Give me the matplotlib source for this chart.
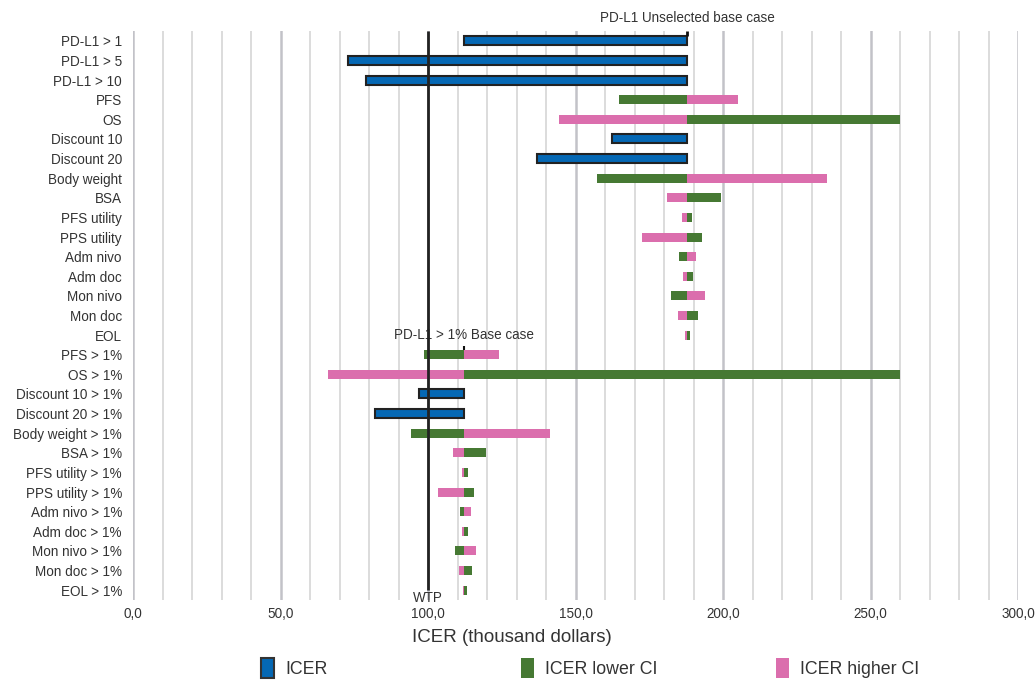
import numpy as np
import matplotlib.pyplot as plt
from matplotlib.patches import Patch
from matplotlib.ticker import MultipleLocator, FuncFormatter

plt.rcParams['font.family'] = ['Liberation Sans', 'DejaVu Sans']

labels = [
    'PD-L1 > 1', 'PD-L1 > 5', 'PD-L1 > 10', 'PFS', 'OS', 'Discount 10',
    'Discount 20', 'Body weight', 'BSA', 'PFS utility', 'PPS utility',
    'Adm nivo', 'Adm doc', 'Mon nivo', 'Mon doc', 'EOL',
    'PFS > 1%', 'OS > 1%', 'Discount 10 > 1%', 'Discount 20 > 1%',
    'Body weight > 1%', 'BSA > 1%', 'PFS utility > 1%', 'PPS utility > 1%',
    'Adm nivo > 1%', 'Adm doc > 1%', 'Mon nivo > 1%', 'Mon doc > 1%',
    'EOL > 1%',
]

base_unselected = 187.9
base_pdl1 = 112.3
wtp = 100.0

# base value each row is drawn from
base = [base_unselected] * 16 + [base_pdl1] * 13

# scenario rows: single ICER value (NaN = not a scenario row)
icer = [112.3, 72.9, 79.1, np.nan, np.nan, 162.4, 136.9, np.nan, np.nan,
        np.nan, np.nan, np.nan, np.nan, np.nan, np.nan, np.nan,
        np.nan, np.nan, 96.9, 82.0, np.nan, np.nan, np.nan, np.nan,
        np.nan, np.nan, np.nan, np.nan, np.nan]

# ICER at lower / higher CI of the parameter
icer_low = [np.nan, np.nan, np.nan, 164.9, 260.0, np.nan, np.nan, 157.4,
            199.4, 189.4, 192.8, 185.0, 189.7, 182.3, 191.4, 188.8,
            98.5, 260.0, np.nan, np.nan, 94.1, 119.5, 113.4, 115.5,
            110.7, 113.4, 109.0, 114.8, 113.1]
icer_high = [np.nan, np.nan, np.nan, 205.0, 144.5, np.nan, np.nan, 235.4,
             181.0, 186.0, 172.4, 191.0, 186.3, 193.8, 184.6, 187.2,
             124.2, 66.2, np.nan, np.nan, 141.2, 108.4, 111.4, 103.3,
             114.5, 111.4, 116.2, 110.4, 111.8]

blue = '#0568b4'
green = '#467933'
pink = '#db6ead'
dark = '#333333'
fs = 9.75

fig = plt.figure(figsize=(10.35, 6.8), dpi=100)
ax = fig.add_axes([133 / 1035, 80 / 680, 885 / 1035, 569 / 680])

y = np.arange(len(labels))
h = 0.46
b = np.array(base)
ic = np.array(icer)
lo = np.array(icer_low)
hi = np.array(icer_high)

m = ~np.isnan(ic)
ax.barh(y[m], ic[m] - b[m], left=b[m], height=h, color=blue,
        edgecolor='#222222', linewidth=1.5, zorder=3)
m = ~np.isnan(lo)
ax.barh(y[m], lo[m] - b[m], left=b[m], height=h, color=green, zorder=3)
ax.barh(y[m], hi[m] - b[m], left=b[m], height=h, color=pink, zorder=3)

# willingness to pay
ax.vlines(wtp, -0.5, len(labels) - 1, color='#222222', linewidth=2, zorder=4)
ax.text(wtp, len(labels) - 0.6, 'WTP', ha='center', va='center',
        fontsize=fs, color=dark)

# base case markers
ax.vlines(base_unselected, -0.5, -h / 2, color='#111111', linewidth=2, zorder=4)
ax.text(base_unselected, -1.15, 'PD-L1 Unselected base case', ha='center',
        va='center', fontsize=fs, color=dark)
ax.vlines(base_pdl1, 15.55, 16 - h / 2, color='#111111', linewidth=1.5, zorder=4)
ax.text(base_pdl1, 15.0, 'PD-L1 > 1% Base case', ha='center', va='center',
        fontsize=fs, color=dark)

ax.set_xlim(0, 300)
ax.set_ylim(len(labels) - 0.5, -0.5)
ax.set_yticks(y)
ax.set_yticklabels(labels, fontsize=fs, color=dark)
ax.xaxis.set_major_locator(MultipleLocator(50))
ax.xaxis.set_minor_locator(MultipleLocator(10))
ax.xaxis.set_major_formatter(FuncFormatter(lambda v, p: f'{v:.1f}'.replace('.', ',')))
ax.tick_params(axis='x', which='both', length=0, labelsize=fs, colors=dark, pad=5)
ax.tick_params(axis='y', length=0, pad=8)
ax.grid(axis='x', which='minor', color='#d6d6d6', linewidth=1.2, zorder=0)
ax.grid(axis='x', which='major', color='#c2c2c8', linewidth=1.8, zorder=0)
ax.set_axisbelow(True)
for s in ax.spines.values():
    s.set_visible(False)

ax.set_xlabel('ICER (thousand dollars)', fontsize=13.5, color=dark, labelpad=6)
ax.xaxis.label.set_x((512 - 133) / 885)

entries = [
    (Patch(facecolor=blue, edgecolor='#333333', linewidth=1.5), 'ICER', 252),
    (Patch(facecolor=green), 'ICER lower CI', 512),
    (Patch(facecolor=pink), 'ICER higher CI', 767),
]
for handle, text, xpos in entries:
    fig.legend([handle], [text], loc='center left',
               bbox_to_anchor=(xpos / 1035, 1 - 668 / 680), frameon=False,
               fontsize=12.8, handlelength=0.75, handleheight=1.3,
               handletextpad=0.6, borderpad=0, labelcolor=dark)

fig.savefig('out.png', dpi=100)
